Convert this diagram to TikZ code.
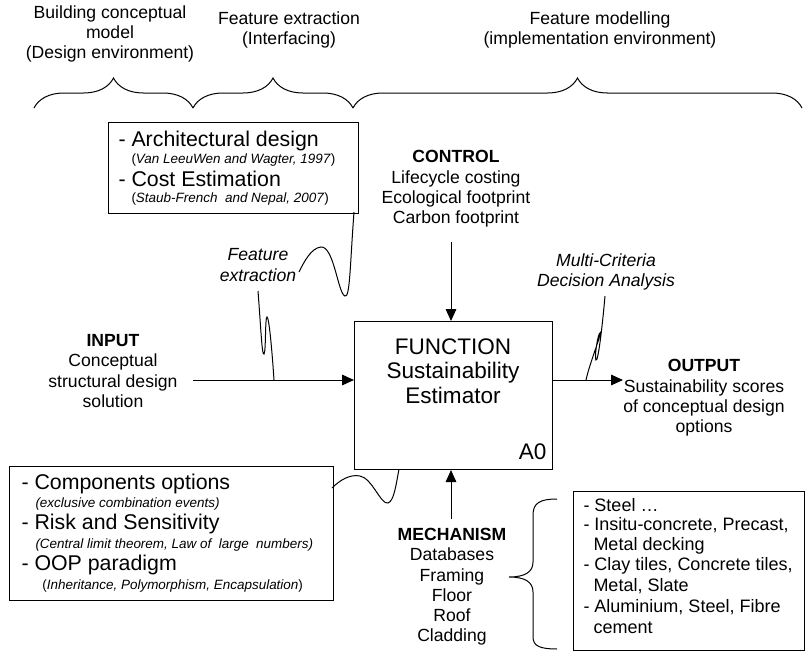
\documentclass[tikz,border=0pt]{standalone}
\usepackage{fontspec}
\setmainfont{Liberation Sans}
\usetikzlibrary{arrows.meta,decorations.pathreplacing}
\newcommand\fLab{\fontsize{13.2}{15.2}\selectfont}
\newcommand\fItem{\fontsize{16}{18}\selectfont}
\newcommand\fRef{\fontsize{10.1}{12}\selectfont}
\newcommand\fFun{\fontsize{16.9}{18.4}\selectfont}
\newcommand\fRb{\fontsize{13.5}{15.5}\selectfont}
\begin{document}
\begin{tikzpicture}[x=0.75pt,y=-0.75pt,line width=0.75pt,
  lab/.style={font=\fLab,align=center,inner sep=0pt},
  ital/.style={font=\fLab\itshape,align=center,inner sep=0pt},
  frame/.style={draw,line width=0.8pt,inner sep=0pt,anchor=north west},
  item/.style={font=\fItem,inner sep=0pt,anchor=west},
  ref/.style={font=\fRef,inner sep=0pt,anchor=west},
  ritem/.style={font=\fRb,inner sep=0pt,anchor=west},
  arr/.style={-{Triangle[length=9pt,width=8pt]},line width=0.75pt},
  brc/.style={decorate,decoration={brace,amplitude=22.5pt},line width=0.75pt}]
\useasboundingbox (0,0) rectangle (811,653);

% headers
\node[lab] (h1) at (110,34) {Building conceptual\\model\\(Design environment)};
\node[lab] (h2) at (289,30) {Feature extraction\\(Interfacing)};
\node[lab] (h3) at (600,30) {Feature modelling\\(implementation environment)};
\coordinate (b0) at (34,108); \coordinate (b1) at (193,108);
\coordinate (b2) at (353,108); \coordinate (b3) at (802,108);
\draw[brc] (b0) -- (b1);
\draw[brc] (b1) -- (b2);
\draw[brc] (b2) -- (b3);

% top box
\node[frame,minimum width=187.5pt,minimum height=68pt] (tb) at (108,122) {};
\node[item] (t1) at (118,141) {- Architectural design};
\node[ref] (t2) at (131,160) {(\textit{Van LeeuWen and Wagter, 1997})};
\node[item] (t3) at (118,179) {- Cost Estimation};
\node[ref] (t4) at (131,199) {(\textit{Staub-French\ \ and Nepal, 2007})};

% control
\node[lab] (ctrl) at (456,189) {\textbf{CONTROL}\\Lifecycle costing\\Ecological footprint\\Carbon footprint};

% function
\node[frame,minimum width=148.5pt,minimum height=111pt] (fn) at (354,321) {};
\node[font=\fFun,align=center,inner sep=0pt] (fnt) at (453,371) {FUNCTION\\Sustainability\\Estimator};
\node[font=\fFun,inner sep=0pt,anchor=east] (a0) at (547,452) {A0};

% input / output / mechanism
\node[lab] (in) at (113,371) {\textbf{INPUT}\\Conceptual\\structural design\\solution};
\node[lab] (out) at (704,398) {\textbf{OUTPUT}\\Sustainability scores\\of conceptual design\\options};
\node[lab] (mech) at (452,587) {\textbf{MECHANISM}\\Databases\\Framing\\Floor\\Roof\\Cladding};

\coordinate (cT) at (451,242);
\draw[arr] (cT) -- (cT |- fn.north);
\coordinate (iS) at (193,380);
\draw[arr] (iS) -- (iS -| fn.west);
\coordinate (oE) at (623,380);
\draw[arr] (oE -| fn.east) -- (oE);
\coordinate (mS) at (451,519);
\draw[arr] (mS) -- (mS |- fn.south);

% call-out labels
\node[ital] (fx) at (258,265) {Feature\\extraction};
\node[ital] (mc) at (606,272) {Multi-Criteria\\Decision Analysis};

% squiggles
\coordinate (q1) at (354,212); \coordinate (q2) at (299,272);
\draw (q1) .. controls (350,265) and (350,298) .. (345,296) .. controls (338,294) and (334,246) .. (321,247) .. controls (311,248) and (304,262) .. (q2);
\coordinate (r1) at (258,291); \coordinate (r2) at (274,380);
\draw (r1) .. controls (261,330) and (262,356) .. (264,354) .. controls (266,352) and (265,317) .. (267,317) .. controls (269,317) and (272,350) .. (r2);
\coordinate (s1) at (605,296); \coordinate (s2) at (586,380);
\draw (s1) .. controls (602,330) and (598,362) .. (596,360) .. controls (594,358) and (598,333) .. (600,333) .. controls (601,336) and (590,362) .. (s2);
\coordinate (u1) at (332,488); \coordinate (u2) at (399,469);
\draw (u1) .. controls (340,480) and (350,474) .. (360,476) .. controls (372,478) and (381,505) .. (388,503) .. controls (394,501) and (396,485) .. (u2);

% bottom-left box
\node[frame,minimum width=243pt,minimum height=100.5pt] (lb) at (9,466) {};
\node[item] (l1) at (21,484) {- Components options};
\node[ref] (l2) at (35,504) {\textit{(exclusive combination events)}};
\node[item] (l3) at (21,524) {- Risk and Sensitivity};
\node[ref] (l4) at (35,545) {\textit{(Central limit theorem, Law of\ \ large\ \ numbers)}};
\node[item] (l5) at (21,565) {- OOP paradigm};
\node[ref] (l6) at (42,586) {(\textit{Inheritance, Polymorphism, Encapsulation})};

% right box
\node[frame,minimum width=173pt,minimum height=119.5pt] (rb) at (573,491) {};
\node[ritem] (r01) at (583,505) {- Steel …};
\node[ritem] (r02) at (583,525) {- Insitu-concrete, Precast,};
\node[ritem] (r03) at (593,545.5) {Metal decking};
\node[ritem] (r04) at (583,566) {- Clay tiles, Concrete tiles,};
\node[ritem] (r05) at (593,586.5) {Metal, Slate};
\node[ritem] (r06) at (583,607) {- Aluminium, Steel, Fibre};
\node[ritem] (r07) at (593,627.5) {cement};

% right curly bracket
\draw (557,499) .. controls (540,499) and (533,503) .. (533,515) -- (533,562)
  .. controls (533,572) and (525,577) .. (509,577)
  .. controls (525,577) and (533,582) .. (533,592) -- (533,637)
  .. controls (533,646) and (540,649) .. (557,649);
\end{tikzpicture}
\end{document}
